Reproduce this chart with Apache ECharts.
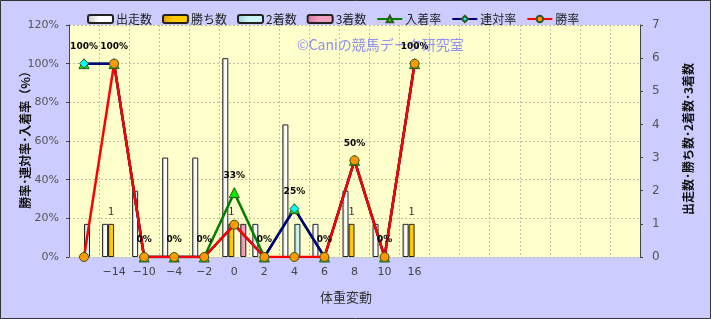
<!DOCTYPE html>
<html><head><meta charset="utf-8">
<script src="https://cdn.jsdelivr.net/npm/echarts@6/dist/echarts.min.js"></script>
<style>html,body{margin:0;padding:0;background:#ccccff;}#c{width:711px;height:319px;}</style>
</head><body><div id="c"></div>
<script>
const categories = ['', '−14', '−10', '−4', '−2', '0', '2', '4', '6', '8', '10', '16', '', '', '', '', '', '', ''];
const runs   = [0, 1, 2, 3, 3, 6, 1, 4, 1, 2, 1, 1];
const wins   = [0, 1, 0, 0, 0, 1, 0, 0, 0, 1, 0, 1];
const second = [1, 0, 0, 0, 0, 0, 0, 1, 0, 0, 0, 0];
const third  = [0, 0, 0, 0, 0, 1, 0, 0, 0, 0, 0, 0];
const placeRate = [100, 100, 0, 0, 0, 33.3, 0, 25, 0, 50, 0, 100];
const rentaiRate = [100, 100, 0, 0, 0, 16.7, 0, 25, 0, 50, 0, 100];
const winRate = [0, 100, 0, 0, 0, 16.7, 0, 0, 0, 50, 0, 100];
const leftTicks = [0, 20, 40, 60, 80, 100, 120];
const rightTicks = [0, 1, 2, 3, 4, 5, 6, 7];

const FONT = '"Noto Sans CJK JP", sans-serif';
const nz = a => a.map(v => v === 0 ? null : v);
const grad = (c1, c2) => ({type:'linear', x:0, y:0, x2:1, y2:0, colorStops:[{offset:0,color:c1},{offset:0.45,color:c2},{offset:1,color:c2}]});

function barSeries(name, data, c1, c2, label) {
  return {
    name, type:'bar', yAxisIndex:1, data: nz(data), barGap:0, barWidth:6,
    itemStyle:{color:grad(c1,c2), borderColor:'#222', borderWidth:1},
    label: label ? {show:true, position:'top', distance:8, color:'#333', fontSize:11, fontFamily:FONT,
      formatter:p => p.value ? String(p.value) : ''} : {show:false},
    emphasis:{disabled:true}
  };
}
function lineSeries(name, data, lineColor, symbol, symColor, size, label) {
  return {
    name, type:'line', yAxisIndex:0, data, symbol, symbolSize:size,
    lineStyle:{color:lineColor, width:2.5}, itemStyle:{color:symColor, borderColor:'#335522', borderWidth:1},
    label: label ? {show:true, position:'top', distance:7, color:'#000', fontSize:9, fontWeight:'bold', fontFamily:'"DejaVu Sans", sans-serif',
      formatter:p => Math.round(p.value) + '%'} : {show:false},
    emphasis:{disabled:true}
  };
}

const chart = echarts.init(document.getElementById('c'), null, {renderer:'canvas'});
chart.setOption({
  animation:false,
  backgroundColor:'#ccccff',
  textStyle:{fontFamily:FONT},
  legend:{
    left:82, top:8, itemWidth:25, itemHeight:8, itemGap:10,
    textStyle:{fontSize:12, color:'#222', fontFamily:FONT, padding:[0,0,0,-2]},
    data:['出走数','勝ち数','2着数','3着数','入着率','連対率','勝率']
  },
  grid:{left:69, right:71, top:25, bottom:62, show:true, backgroundColor:'#ffffcc', borderWidth:0},
  xAxis:{
    type:'category', data:categories, boundaryGap:true,
    axisLine:{show:false}, axisTick:{show:false},
    axisLabel:{color:'#444', fontSize:11, margin:10, interval:0, fontFamily:'"DejaVu Sans", sans-serif'},
    splitLine:{show:true, interval:0, lineStyle:{color:'#c0c0aa', type:[2,2], width:1}}
  },
  yAxis:[
    {type:'value', min:0, max:leftTicks[leftTicks.length-1], interval:20, position:'left',
     axisLine:{show:true, lineStyle:{color:'#444'}}, axisTick:{show:true, length:3, lineStyle:{color:'#444'}},
     axisLabel:{color:'#555', fontSize:11, margin:10, formatter:'{value}%', fontFamily:'"DejaVu Sans", sans-serif'},
     splitLine:{show:true, lineStyle:{color:'#c0c0aa', type:[2,2]}}},
    {type:'value', min:0, max:rightTicks[rightTicks.length-1], interval:1, position:'right',
     axisLine:{show:true, lineStyle:{color:'#444'}}, axisTick:{show:true, length:3, lineStyle:{color:'#444'}},
     axisLabel:{color:'#555', fontSize:12, margin:12, fontFamily:'"DejaVu Sans", sans-serif'},
     splitLine:{show:false}}
  ],
  series:[
    barSeries('出走数', runs, '#c0c0c0', '#ffffff', false),
    barSeries('勝ち数', wins, '#e0a000', '#ffcc00', true),
    barSeries('2着数', second, '#98d0d8', '#ccf4f4', false),
    barSeries('3着数', third, '#d87098', '#f0a0c0', false),
    lineSeries('入着率', placeRate, '#008000', 'triangle', '#00ee00', 10, true),
    lineSeries('連対率', rentaiRate, '#000080', 'diamond', '#00ffff', 9, false),
    lineSeries('勝率', winRate, '#ff0000', 'circle', '#ff9900', 9, false)
  ],
  graphic:[
    {type:'text', left:297, top:38, z:1, style:{text:'©Caniの競馬データ研究室', fill:'#9090f0', font:'14px ' + FONT}},
    {type:'text', x:25, y:137, rotation:Math.PI/2, style:{text:'勝率･連対率･入着率（%）', fill:'#111', font:'bold 12px ' + FONT, align:'center', verticalAlign:'middle'}},
    {type:'text', x:688, y:139, rotation:Math.PI/2, style:{text:'出走数･勝ち数･2着数･3着数', fill:'#111', font:'bold 12px ' + FONT, align:'center', verticalAlign:'middle'}},
    {type:'text', x:346, y:297, style:{text:'体重変動', fill:'#333', font:'13px ' + FONT, align:'center', verticalAlign:'middle'}},
    {type:'rect', shape:{x:0.5, y:0.5, width:710, height:318}, style:{fill:'none', stroke:'#333', lineWidth:1}}
  ]
});
</script></body></html>
